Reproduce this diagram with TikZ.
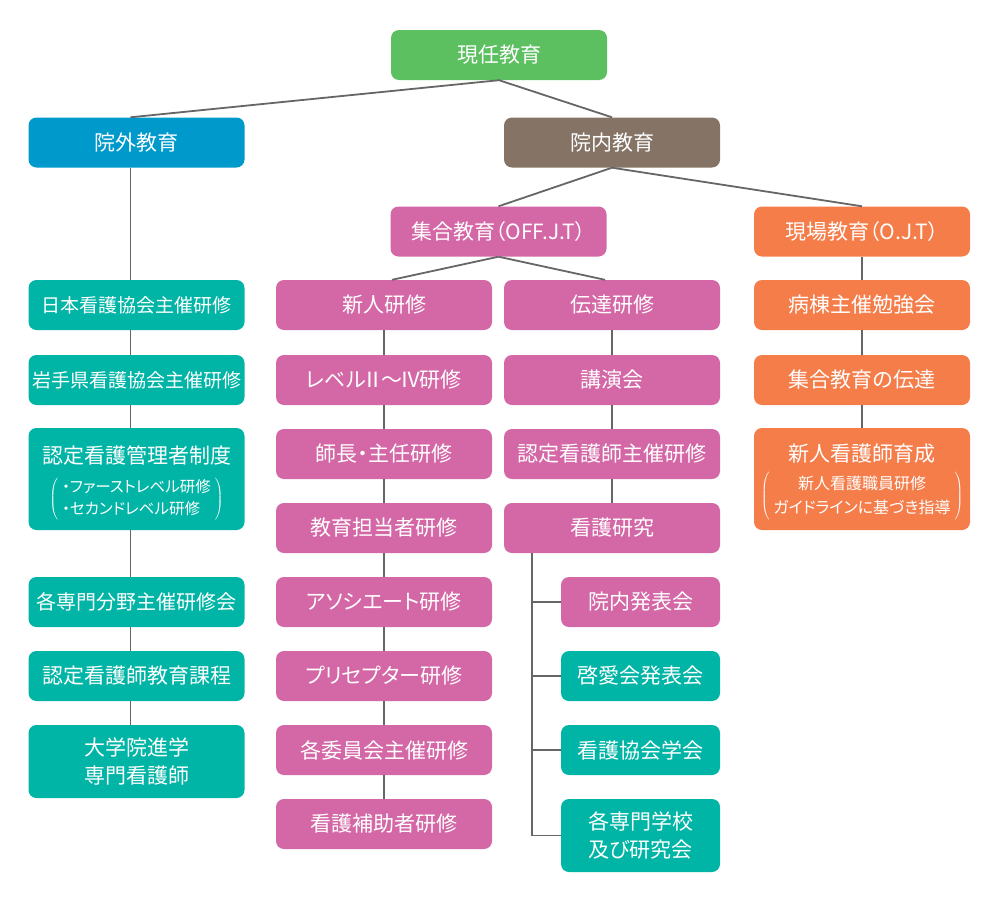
\documentclass[tikz,border=0pt]{standalone}
\usepackage{fontspec}
\setmainfont[RawFeature=+palt]{Noto Sans CJK JP}
\usetikzlibrary{positioning}
\definecolor{kgreen}{HTML}{5CBF60}
\definecolor{kblue}{HTML}{0099CC}
\definecolor{kbrown}{HTML}{857466}
\definecolor{kpink}{HTML}{D467A6}
\definecolor{kteal}{HTML}{00B5A6}
\definecolor{korange}{HTML}{F47D4A}
\definecolor{kline}{HTML}{666666}
\newcommand{\bigfont}{\fontsize{21}{28}\selectfont}
\newcommand{\kakko}[2]{$\left(\hspace{4pt}\begin{tabular}{@{}#1@{}}#2\end{tabular}\hspace{4pt}\right)$}

\begin{document}
\begin{tikzpicture}[x=1pt,y=-1pt,
    box/.style={rounded corners=8pt,fill=#1,text=white,minimum width=216pt,
      minimum height=50pt,inner sep=0pt,align=center,font=\bigfont},
    subbox/.style={box=#1,minimum width=159pt},
    link/.style={draw=kline,line width=1.8pt}]
    \useasboundingbox (0,0) rectangle (1000,900);
    % top levels
    \node [box=kgreen]  (genin) at (499,55)      {現任教育};
    \node [box=kblue]   (gaibu) at (136.5,142.5) {院外教育};
    \node [box=kbrown]  (naibu) at (612,142.5)   {院内教育};
    \node [box=kpink]   (shugo) at (498.5,231.5) {集合教育（OFF.J.T）};
    \node [box=korange] (genba) at (862,231.5)   {現場教育（O.J.T）};
    % outside
    \node [box=kteal,font=\fontsize{19}{26}\selectfont] (nikkan) at (136.5,305) {日本看護協会主催研修};
    \node [box=kteal,font=\fontsize{19}{26}\selectfont] (iwate) at (136.5,380) {岩手県看護協会主催研修};
    \node [box=kteal,minimum height=102pt] (kanri) at (136.5,479)
      {\rule{0pt}{27pt}認定看護管理者制度\\[11pt]{\fontsize{15.5}{22}\selectfont\kakko{l}{・ファーストレベル研修\\・セカンドレベル研修}}};
    \node [box=kteal,font=\fontsize{20}{26}\selectfont] (bunya) at (136.5,602) {各専門分野主催研修会};
    \node [box=kteal] (katei) at (136.5,676) {認定看護師教育課程};
    \node [box=kteal,minimum height=73pt] (daigaku) at (136.5,761.5) {大学院進学\\専門看護師};
    % new staff
    \node [box=kpink] (shinjin) at (384,305) {新人研修};
    \node [box=kpink] (level)   at (384,380) {レベル\hspace{-3pt}Ⅱ\hspace{-2pt}〜\hspace{-2pt}Ⅳ\hspace{-2pt}研修};
    \node [box=kpink] (shicho)  at (384,454) {師長・主任研修};
    \node [box=kpink] (tanto)   at (384,528) {教育担当者研修};
    \node [box=kpink] (assoc)   at (384,602) {アソシエート研修};
    \node [box=kpink] (precep)  at (384,676) {プリセプター研修};
    \node [box=kpink] (iinkai)  at (384,750) {各委員会主催研修};
    \node [box=kpink] (hojo)    at (384,824) {看護補助者研修};
    % relay
    \node [box=kpink] (dentatsu) at (612,305) {伝達研修};
    \node [box=kpink] (koen)     at (612,380) {講演会};
    \node [box=kpink] (shusai)   at (612,454) {認定看護師主催研修};
    \node [box=kpink] (kenkyu)   at (612,528) {看護研究};
    \node [subbox=kpink] (innai)  at (640.5,602) {院内発表会};
    \node [subbox=kteal] (keiai)  at (640.5,676) {啓愛会発表会};
    \node [subbox=kteal] (kyokai) at (640.5,750) {看護協会学会};
    \node [subbox=kteal,minimum height=73pt] (gakko) at (640.5,835.5) {各専門学校\\及び研究会};
    % on the job
    \node [box=korange] (byoto)  at (862,305) {病棟主催勉強会};
    \node [box=korange] (genden) at (862,380) {集合教育の伝達};
    \node [box=korange,minimum height=102pt] (ikusei) at (862,479)
      {\rule{0pt}{24pt}新人看護師育成\\[8pt]{\fontsize{16}{24}\selectfont\kakko{c}{新人看護職員研修\\ガイドラインに基づき指導}}};
    % connectors
    \draw [link] (genin.south) -- ([xshift=-6pt]gaibu.north);
    \draw [link] (genin.south) -- (naibu.north);
    \draw [link] (naibu.south) -- (shugo.north);
    \draw [link] (naibu.south) -- (genba.north);
    \draw [link] (shugo.south) -- ([xshift=8pt]shinjin.north);
    \draw [link] (shugo.south) -- ([xshift=-7pt]dentatsu.north);
    \draw [link] ([xshift=-6pt]gaibu.south) -- ([xshift=-6pt]nikkan.north);
    \draw [link] ([xshift=-6pt]nikkan.south) -- ([xshift=-6pt]iwate.north);
    \draw [link] ([xshift=-6pt]iwate.south) -- ([xshift=-6pt]kanri.north);
    \draw [link] ([xshift=-6pt]kanri.south) -- ([xshift=-6pt]bunya.north);
    \draw [link] ([xshift=-6pt]bunya.south) -- ([xshift=-6pt]katei.north);
    \draw [link] ([xshift=-6pt]katei.south) -- ([xshift=-6pt]daigaku.north);
    \draw [link] (shinjin) -- (level);
    \draw [link] (level) -- (shicho);
    \draw [link] (shicho) -- (tanto);
    \draw [link] (tanto) -- (assoc);
    \draw [link] (assoc) -- (precep);
    \draw [link] (precep) -- (iinkai);
    \draw [link] (iinkai) -- (hojo);
    \draw [link] (dentatsu) -- (koen);
    \draw [link] (koen) -- (shusai);
    \draw [link] (shusai) -- (kenkyu);
    \draw [link] (genba) -- (byoto);
    \draw [link] (byoto) -- (genden);
    \draw [link] (genden) -- (ikusei);
    \coordinate (spine) at ([xshift=28pt]kenkyu.south west);
    \draw [link] (spine) -- (spine |- gakko.west) -- (gakko.west);
    \draw [link] (spine |- innai.west) -- (innai.west);
    \draw [link] (spine |- keiai.west) -- (keiai.west);
    \draw [link] (spine |- kyokai.west) -- (kyokai.west);
\end{tikzpicture}
\end{document}
